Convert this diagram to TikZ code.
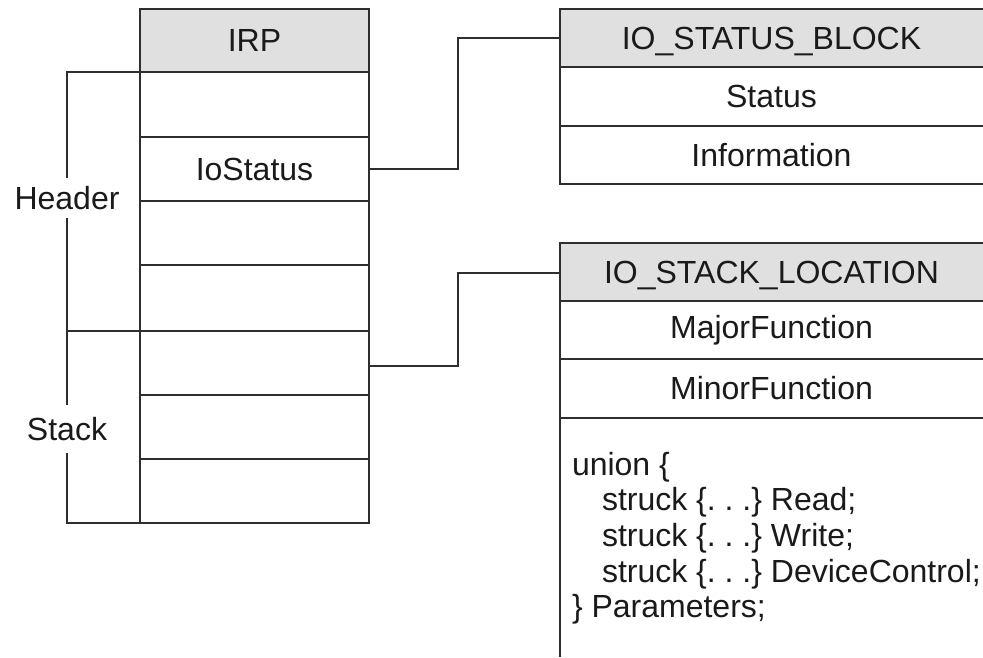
\documentclass[tikz,border=0pt]{standalone}
\usepackage{fontspec}
\setmainfont{Liberation Sans}
\definecolor{linec}{HTML}{2E2E2E}
\definecolor{headc}{HTML}{E0E0E0}
\definecolor{textc}{HTML}{1A1A1A}
\begin{document}
\begin{tikzpicture}[x=1pt,y=-1pt,
  every node/.style={font=\fontsize{32pt}{38pt}\selectfont\frenchspacing, text=textc},
  cell/.style={draw=linec, line width=2.4pt, inner sep=0pt, outer sep=0pt, minimum width=229pt},
  hcell/.style={cell, fill=headc},
  rcell/.style={inner sep=0pt, outer sep=0pt, minimum width=423pt},
  ln/.style={draw=linec, line width=2.4pt},
  lbl/.style={inner sep=0pt, outer sep=0pt}]
\useasboundingbox (0,0) rectangle (983,657);
\fill[white] (0,0) rectangle (983,657);
% IRP column
\node[hcell, minimum height=63pt] (irp0) at (254.5,40.5) {IRP};
\node[cell, minimum height=65pt] (irp1) at (254.5,104.5) {};
\node[cell, minimum height=64pt] (irp2) at (254.5,169) {IoStatus};
\node[cell, minimum height=64pt] (irp3) at (254.5,233) {};
\node[cell, minimum height=66pt] (irp4) at (254.5,298) {};
\node[cell, minimum height=64pt] (irp5) at (254.5,363) {};
\node[cell, minimum height=64pt] (irp6) at (254.5,427) {};
\node[cell, minimum height=64pt] (irp7) at (254.5,491) {};
% brackets
\node[lbl, minimum height=40pt] (hdr) at (67,198) {Header};
\node[lbl, minimum height=48pt] (stk) at (67,429) {Stack};
\coordinate (bt) at (67,72);
\coordinate (bm) at (67,331);
\coordinate (bb) at (67,523);
\draw[ln] (irp1.north west) -- (bt) -- (hdr.north);
\draw[ln] (hdr.south) -- (stk.north);
\draw[ln] (bm) -- (irp5.north west);
\draw[ln] (stk.south) -- (bb) -- (irp7.south west);
% IO_STATUS_BLOCK
\node[rcell, fill=headc, minimum height=58pt, text depth=0pt] (s0) at (771.5,38) {IO\_STATUS\_BLOCK};
\node[rcell, minimum height=59pt] (s1) at (771.5,96.5) {Status};
\node[rcell, minimum height=58pt] (s2) at (771.5,155) {Information};
\draw[ln] (s0.north east) -- (s0.north west) -- (s2.south west) -- (s2.south east);
\draw[ln] (s0.south west) -- (s0.south east);
\draw[ln] (s1.south west) -- (s1.south east);
% IO_STACK_LOCATION
\node[rcell, fill=headc, minimum height=58pt, text depth=0pt] (k0) at (771.5,272) {IO\_STACK\_LOCATION};
\node[rcell, minimum height=58pt] (k1) at (771.5,330) {MajorFunction};
\node[rcell, minimum height=59pt] (k2) at (771.5,388.5) {MinorFunction};
\coordinate (kend) at (560,657);
\draw[ln] (k0.north east) -- (k0.north west) -- (kend);
\draw[ln] (k0.south west) -- (k0.south east);
\draw[ln] (k1.south west) -- (k1.south east);
\draw[ln] (k2.south west) -- (k2.south east);
\node[lbl, anchor=base west] (u1) at (572,475) {union \{};
\node[lbl, anchor=base west] (u2) at (602,510.7) {struck \{. . .\} Read;};
\node[lbl, anchor=base west] (u3) at (602,546.4) {struck \{. . .\} Write;};
\node[lbl, anchor=base west] (u4) at (602,582.1) {struck \{. . .\} DeviceControl;};
\node[lbl, anchor=base west] (u5) at (572,617.8) {\} Parameters;};
% connectors
\draw[ln] (irp2.east) -- ++(89,0) |- (s0.west);
\draw[ln] ([yshift=-3pt]irp5.east) -- ++(89,0) |- ([yshift=-1pt]k0.west);
\end{tikzpicture}
\end{document}
